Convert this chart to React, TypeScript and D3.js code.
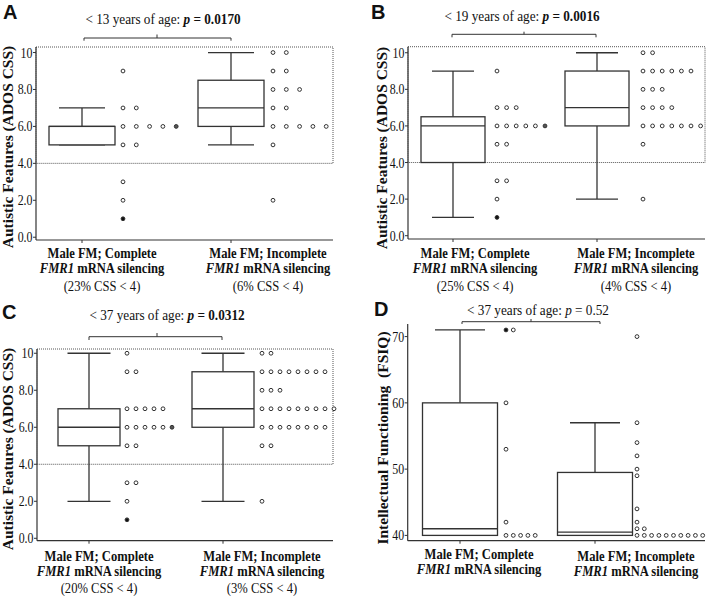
import React from 'react';
import * as d3 from 'd3';

const groups = ['Male FM; Complete', 'Male FM; Incomplete'];
const panelLetters = ['A', 'B', 'C', 'D'];
const ageLabels = ['< 13 years of age: ', '< 19 years of age: ', '< 37 years of age: ', '< 37 years of age: '];
const pValues = ['0.0170', '0.0016', '0.0312', '0.52'];
const pBold = [true, true, true, false];
const cssPct = [['23%', '6%'], ['25%', '4%'], ['20%', '3%'], null];
const yTitles = ['Autistic Features (ADOS CSS)', 'Autistic Features (ADOS CSS)', 'Autistic Features (ADOS CSS)', 'Intellectual Functioning  (FSIQ)'];
const cssTicks = [0, 2, 4, 6, 8, 10];
const iqTicks = [40, 50, 60, 70];

// box stats: [lower whisker, q1, median, q3, upper whisker]
const boxA = [[5, 5, 6, 6, 7], [5, 6, 7, 8.5, 10]];
const boxB = [[1, 4, 6, 6.5, 9], [2, 6, 7, 9, 10]];
const boxC = [[2, 5, 6, 7, 10], [2, 6, 7, 9, 10]];
const boxD = [[40, 40, 41, 60, 71], [40, 40, 40.5, 49.5, 57]];

const dotsA1 = [9, 7, 7, 6, 6, 6, 6, 6, 5, 5, 3, 2, 1];
const dotsA2 = [10, 10, 9, 9, 8, 8, 8, 7, 7, 6, 6, 6, 6, 6, 5, 2];
const dotsB1 = [9, 7, 7, 7, 6, 6, 6, 6, 6, 6, 5, 5, 3, 3, 2, 1];
const dotsB2 = [10, 10, 9, 9, 9, 9, 9, 9, 8, 8, 8, 7, 7, 7, 7, 6, 6, 6, 6, 6, 6, 6, 5, 2];
const dotsC1 = [10, 9, 9, 7, 7, 7, 7, 7, 6, 6, 6, 6, 6, 6, 5, 5, 3, 3, 2, 1];
const dotsC2 = [10, 10, 9, 9, 9, 9, 9, 9, 9, 9, 8, 8, 8, 7, 7, 7, 7, 7, 7, 7, 7, 7, 6, 6, 6, 6, 6, 6, 6, 6, 5, 5, 2];
const dotsD1 = [71, 71, 60, 53, 42, 40, 40, 40, 40, 40];
const dotsD2 = [70, 57, 54, 52, 50, 49, 44, 42, 41, 41, 40, 40, 40, 40, 40, 40, 40, 40, 40, 40];

// highlighted dots: [value, position in its row, fill]
const markedA1 = [[6, 4, '#555'], [1, 0, '#111']];
const markedB1 = [[6, 5, '#555'], [1, 0, '#111']];
const markedC1 = [[6, 5, '#555'], [1, 0, '#111']];
const markedD1 = [[71, 0, '#111']];

const panels = [
  { dots: [dotsA1, dotsA2], marked: [markedA1, []] },
  { dots: [dotsB1, dotsB2], marked: [markedB1, []] },
  { dots: [dotsC1, dotsC2], marked: [markedC1, []] },
  { dots: [dotsD1, dotsD2], marked: [markedD1, []] },
];
const boxesAll = [boxA, boxB, boxC, boxD];

const layouts = [
  { ax: 36, right: 333, yTop: 47, yBot: 240, dom: [-0.15, 10.3], cx: [82, 231], boxW: 66, capW: 46, dotOff: [41, 42], dotSp: 13.3, rect: true, ticks: cssTicks,
    letter: [3, 19], title: [163, 24], br: [84, 231, 38, 40.7, 157, 34.5], lab: [102, 268], labY: [258, 273, 291], labY2: [258, 273], yt: [13, 147] },
  { ax: 408, right: 705, yTop: 46.7, yBot: 239, dom: [-0.18, 10.33], cx: [453, 597], boxW: 64, capW: 42, dotOff: [44, 46], dotSp: 9.6, rect: true, ticks: cssTicks,
    letter: [371, 19], title: [522, 21], br: [452, 596, 34.3, 37.3, 524, 31.7], lab: [475, 636], labY: [258, 273, 291], labY2: [258, 273], yt: [387, 148] },
  { ax: 37, right: 333, yTop: 349, yBot: 540.7, dom: [-0.13, 10.23], cx: [89, 223], boxW: 62, capW: 43, dotOff: [38, 39], dotSp: 9, rect: true, ticks: cssTicks,
    letter: [2, 319], title: [167, 320], br: [89, 222, 336.7, 340, 157, 333], lab: [99, 262], labY: [561, 576, 593], labY2: [561, 576], yt: [13, 449] },
  { ax: 407.7, right: 705, yTop: 324, yBot: 540.7, dom: [39.2, 71.9], cx: [460, 595], boxW: 75, capW: 50, dotOff: [46, 42], dotSp: 7.3, rect: false, ticks: iqTicks,
    letter: [374, 316], title: [538, 315], br: [462, 600, 321.7, 324, 531, 319], lab: [479, 636], labY: [559, 574], labY2: [561, 576], yt: [388, 438] },
];

const serif = '"Liberation Serif", "Times New Roman", serif';
const sans = '"Liberation Sans", Arial, sans-serif';
const ink = '#333';
const SX = 0.9; // horizontal squeeze of the source figure's text

function SText({ x, y, sx = SX, children, ...rest }: any) {
  return (
    <text transform={`translate(${x},${y}) scale(${sx},1)`} {...rest}>{children}</text>
  );
}

function Panel({ i }: { i: number }) {
  const L = layouts[i];
  const y = d3.scaleLinear().domain(L.dom).range([L.yBot, L.yTop]);
  const x = d3.scalePoint<string>().domain(groups).range(L.cx as [number, number]);
  const boxes = boxesAll[i];
  const dots = panels[i].dots;
  const marked = panels[i].marked;
  const fmt = (v: number) => (L.ticks === cssTicks ? (v === 10 ? '10' : v.toFixed(1)) : String(v));
  const pct = cssPct[i];
  return (
    <g>
      <text x={L.letter[0]} y={L.letter[1]} fontFamily={sans} fontWeight="bold" fontSize={20} fill="#111">{panelLetters[i]}</text>
      <SText x={L.title[0]} y={L.title[1]} textAnchor="middle" fontFamily={serif} fontSize={14.7} fill="#111">
        {ageLabels[i]}
        <tspan fontStyle="italic" fontWeight={pBold[i] ? 'bold' : 'normal'}>p</tspan>
        <tspan fontWeight={pBold[i] ? 'bold' : 'normal'}>{' = ' + pValues[i]}</tspan>
      </SText>
      <path d={`M${L.br[0]},${L.br[3]}V${L.br[2]}H${L.br[1]}V${L.br[3]}M${L.br[4]},${L.br[2]}V${L.br[5]}`} fill="none" stroke={ink} strokeWidth={1} />
      {L.rect && (
        <rect x={L.ax} y={L.yTop} width={L.right - L.ax} height={y(4) - L.yTop} fill="none" stroke="#555" strokeWidth={1} strokeDasharray="1,1" />
      )}
      {/* axes */}
      <line x1={L.ax} x2={L.ax} y1={L.yTop} y2={L.yBot} stroke={ink} strokeWidth={1.2} />
      <line x1={L.ax} x2={L.right} y1={L.yBot} y2={L.yBot} stroke={ink} strokeWidth={1.2} />
      {L.ticks.map((t) => (
        <g key={t}>
          <line x1={L.ax - 3} x2={L.ax} y1={y(t)} y2={y(t)} stroke={ink} strokeWidth={1} />
          <SText x={L.ax - 3.5} y={y(t) + 5} sx={0.85} textAnchor="end" fontFamily={serif} fontSize={14} fill="#111">{fmt(t)}</SText>
        </g>
      ))}
      {groups.map((g) => (
        <line key={g} x1={x(g)} x2={x(g)} y1={L.yBot} y2={L.yBot + 3} stroke={ink} strokeWidth={1} />
      ))}
      <text transform={`translate(${L.yt[0]},${L.yt[1]}) rotate(-90)`} textAnchor="middle" fontFamily={serif} fontWeight="bold" fontSize={15.5} fill="#111" style={{ whiteSpace: 'pre' }}>{yTitles[i]}</text>
      {/* boxes */}
      {groups.map((g, k) => {
        const [lo, q1, med, q3, hi] = boxes[k];
        const c = x(g) as number;
        return (
          <g key={g} stroke={ink} strokeWidth={1.3} fill="none">
            <line x1={c} x2={c} y1={y(q3)} y2={y(hi)} />
            <line x1={c} x2={c} y1={y(q1)} y2={y(lo)} />
            <line x1={c - L.capW / 2} x2={c + L.capW / 2} y1={y(hi)} y2={y(hi)} />
            <line x1={c - L.capW / 2} x2={c + L.capW / 2} y1={y(lo)} y2={y(lo)} />
            <rect x={c - L.boxW / 2} y={y(q3)} width={L.boxW} height={y(q1) - y(q3)} fill="#fff" />
            <line x1={c - L.boxW / 2} x2={c + L.boxW / 2} y1={y(med)} y2={y(med)} />
          </g>
        );
      })}
      {/* dots */}
      {groups.map((g, k) => {
        const c = x(g) as number;
        const rows = d3.groups(dots[k], (v) => v);
        return (
          <g key={g}>
            {rows.flatMap(([val, arr]) =>
              arr.map((_, j) => {
                const m = marked[k].find((mm) => mm[0] === val && mm[1] === j);
                return (
                  <circle key={`${val}-${j}`} cx={c + L.dotOff[k] + j * L.dotSp} cy={y(val)} r={1.9}
                    fill={m ? (m[2] as string) : '#fff'} stroke={ink} strokeWidth={1} />
                );
              })
            )}
          </g>
        );
      })}
      {/* x labels */}
      {groups.map((g, k) => {
        const ly = k === 0 ? L.labY : L.labY2;
        return (
          <g key={g} fontFamily={serif} fill="#111">
            <SText x={L.lab[k]} y={ly[0]} textAnchor="middle" fontWeight="bold" fontSize={14}>{g}</SText>
            <SText x={L.lab[k]} y={ly[1]} textAnchor="middle" fontWeight="bold" fontSize={14}>
              <tspan fontStyle="italic">FMR1</tspan> mRNA silencing
            </SText>
            {pct && (
              <SText x={L.lab[k]} y={L.labY[2]} textAnchor="middle" fontSize={14}>{`(${pct[k]} CSS < 4)`}</SText>
            )}
          </g>
        );
      })}
    </g>
  );
}

export default function App() {
  return (
    <svg width={707} height={596} style={{ position: 'absolute', left: 0, top: 0, background: '#fff' }}>
      <rect width={707} height={596} fill="#fff" />
      {[0, 1, 2, 3].map((i) => (
        <Panel key={i} i={i} />
      ))}
    </svg>
  );
}
